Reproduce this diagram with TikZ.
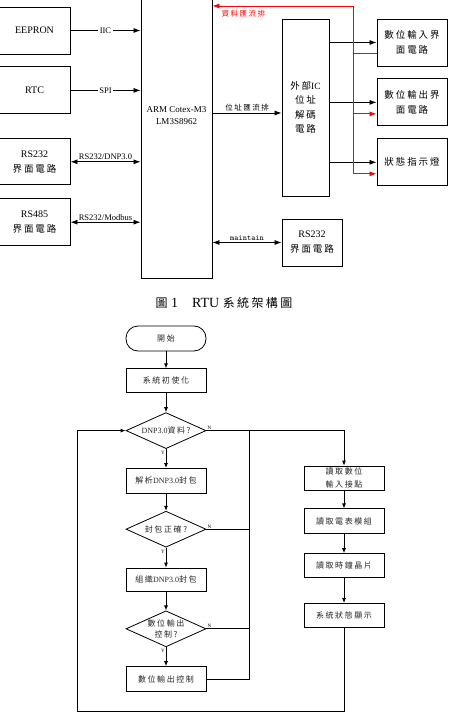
\documentclass[tikz,border=0pt]{standalone}
\usepackage{fontspec}
\setmainfont{Liberation Serif}
\newfontfamily\cjk[LetterSpace=20]{Noto Sans CJK TC}
\usetikzlibrary{arrows.meta,positioning,shapes.geometric}

\begin{document}
\begin{tikzpicture}[x=1pt, y=-1pt,
    box/.style={draw, line width=0.9pt, align=center, minimum width=70pt, minimum height=47pt, inner sep=1pt, font=\fontsize{10}{15}\selectfont},
    fbox/.style={draw, line width=0.8pt, align=center, minimum width=80pt, minimum height=24pt, inner sep=0pt, text=black!85, font=\fontsize{8}{13}\selectfont},
    decision/.style={diamond, draw, line width=0.8pt, minimum width=80pt, minimum height=36pt, inner sep=0pt},
    arrow/.style={-{Latex[length=7pt,width=5pt]}, line width=0.8pt},
    biarrow/.style={{Latex[length=7pt,width=5pt]}-{Latex[length=7pt,width=5pt]}, line width=0.8pt},
    farrow/.style={-{Latex[length=5pt,width=4pt]}, line width=0.8pt},
    databus/.style={red, line width=0.8pt},
    lbl/.style={font=\fontsize{8.5}{10}\selectfont, inner sep=1.5pt},
    dtext/.style={font=\fontsize{8}{10.5}\selectfont, align=center, inner sep=0pt, text=black!85},
    yn/.style={font=\fontsize{5}{6}\selectfont, inner sep=0.8pt}
]
\useasboundingbox (0,0) rectangle (457,722);

\node[box, minimum width=71pt] (eeprom) at (34.5,30.5) {EEPRON};
\node[box, minimum width=71pt, below=12pt of eeprom] (rtc) {RTC};
\node[box, minimum width=71pt, minimum height=46pt, below=24pt of rtc] (rsa) {RS232\\{\cjk\fontsize{9.5}{15}\selectfont 界面電路}};
\node[box, minimum width=71pt, below=13pt of rsa] (rsb) {RS485\\{\cjk\fontsize{9.5}{15}\selectfont 界面電路}};
\node[box, minimum width=71pt, minimum height=280pt,
      label={[font=\fontsize{9}{12}\selectfont, align=center, yshift=22pt]center:ARM Cotex-M3\\LM3S8962}] (arm) at (176.5,138) {};
\node[box, minimum width=47pt, minimum height=177pt, font=\fontsize{9.5}{14.5}\selectfont] (ext) at (305.5,107.5) {{\cjk 外部}IC\\{\cjk 位址}\\{\cjk 解碼}\\{\cjk 電路}};
\node[box, font=\fontsize{9.5}{15}\selectfont] (din) at (412,42.5) {{\cjk 數位輸入界}\\{\cjk 面電路}};
\node[box, font=\fontsize{9.5}{15}\selectfont, below=12pt of din] (dout) {{\cjk 數位輸出界}\\{\cjk 面電路}};
\node[box, font=\fontsize{9.5}{15}\selectfont, below=12pt of dout] (led) {{\cjk 狀態指示燈}};
\node[box, minimum width=60pt] (rsc) at (312,242.5) {RS232\\{\cjk\fontsize{9.5}{15}\selectfont 界面電路}};

\draw[arrow] (eeprom) -- (eeprom -| arm.west) node[midway, lbl, fill=white]{IIC};
\draw[arrow] (rtc) -- (rtc -| arm.west) node[midway, lbl, fill=white]{SPI};
\draw[biarrow] (rsa) -- (rsa -| arm.west) node[midway, lbl, above]{RS232/DNP3.0};
\draw[biarrow] (rsb) -- (rsb -| arm.west) node[midway, lbl, above]{RS232/Modbus};
\draw[biarrow] (arm.east |- rsc) -- (rsc) node[midway, above, inner sep=2pt, font=\ttfamily\fontsize{8}{10}\selectfont]{maintain};

\coordinate (addr) at ([yshift=-5.5pt]ext.west);
\draw[arrow] (arm.east |- addr) -- (addr) node[midway, above, lbl]{\cjk\fontsize{7.5}{9}\selectfont 位址匯流排};
\draw[arrow] (ext.east |- din) -- (din);
\draw[arrow] (ext.east |- dout) -- (dout);
\draw[arrow] (ext.east |- led) -- (led);

\coordinate (bus) at (353,6);
\coordinate (dinout) at ([yshift=-10.5pt]din.west);
\coordinate (doutin) at ([yshift=-11.5pt]dout.west);
\coordinate (ledin) at ([yshift=-11.5pt]led.west);
\draw[databus, arrow] (bus) -- (arm.east |- bus) node[pos=0.78, below, lbl, text=red, yshift=-2.5pt]{\cjk\fontsize{7.5}{9}\selectfont 資料匯流排};
\draw[databus, arrow] (bus) -- (bus |- ledin) -- (ledin);
\draw[databus] (dinout) -- (bus |- dinout);
\draw[databus, arrow] (bus |- doutin) -- (doutin);

\node[font=\fontsize{14}{16}\selectfont] (caption) at (224,303) {{\cjk\fontsize{12}{14}\selectfont 圖} 1\quad RTU {\cjk\fontsize{12}{14}\selectfont 系統架構圖}};

\node[fbox, rounded corners=12pt, minimum height=25pt] (start) at (166,338.5) {{\cjk 開始}};
\node[fbox, below=17pt of start] (init) {{\cjk 系統初使化}};
\node[decision, below=19pt of init, label={[dtext]center:DNP3.0{\cjk 資料?}}] (q1) {};
\node[fbox, minimum height=25pt, below=19pt of q1] (parse) {{\cjk 解析}DNP3.0{\cjk 封包}};
\node[decision, below=17pt of parse, label={[dtext]center:{\cjk 封包正確?}}] (q2) {};
\node[fbox, minimum height=23pt, below=20pt of q2] (build) {{\cjk 組織}DNP3.0{\cjk 封包}};
\node[decision, below=19pt of build, label={[dtext]center:{\cjk 數位輸出}\\{\cjk 控制?}}] (q3) {};
\node[fbox, minimum height=25pt, below=19pt of q3] (doctl) {{\cjk 數位輸出控制}};

\node[fbox] (rdin) at (344,478) {{\cjk 讀取數位}\\{\cjk 輸入接點}};
\node[fbox, minimum height=25pt, below=18pt of rdin] (rmeter) {{\cjk 讀取電表模組}};
\node[fbox, below=19pt of rmeter] (rclk) {{\cjk 讀取時鐘晶片}};
\node[fbox, below=25pt of rclk] (sysdisp) {{\cjk 系統狀態顯示}};

\draw[farrow] (start) -- (init);
\draw[farrow] (init) -- (q1);
\draw[farrow] (q1) -- (parse) node[yn, pos=0.2, left]{Y};
\draw[farrow] (parse) -- (q2);
\draw[farrow] (q2) -- (build) node[yn, pos=0.2, left]{Y};
\draw[farrow] (build) -- (q3);
\draw[farrow] (q3) -- (doctl) node[yn, pos=0.2, left]{Y};

\coordinate (jn) at (249,0);
\draw[farrow] (q1.east) node[yn, above right]{N} -| (rdin.north);
\draw[line width=0.8pt] (jn |- q1) -- (jn |- doctl) -- (doctl.east);
\draw[line width=0.8pt] (q2.east) node[yn, above right]{N} -- (jn |- q2);
\draw[line width=0.8pt] (q3.east) node[yn, above right]{N} -- (jn |- q3);

\draw[farrow] (rdin) -- (rmeter);
\draw[farrow] (rmeter) -- (rclk);
\draw[farrow] (rclk) -- (sysdisp);
\coordinate (lp) at (77,711);
\draw[farrow] (sysdisp.south) |- (lp) |- (q1.west);
\end{tikzpicture}
\end{document}
